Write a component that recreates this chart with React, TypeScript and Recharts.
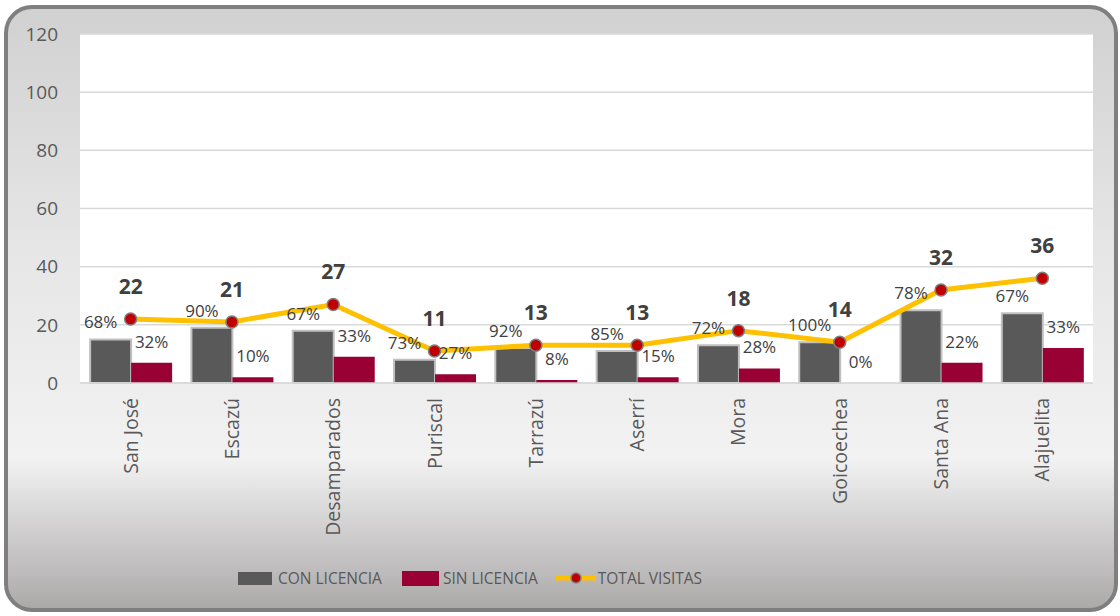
import {
  Bar,
  CartesianGrid,
  ComposedChart,
  LabelList,
  Legend,
  Line,
  XAxis,
  YAxis,
} from 'recharts';

const cantones = [
  'San José',
  'Escazú',
  'Desamparados',
  'Puriscal',
  'Tarrazú',
  'Aserrí',
  'Mora',
  'Goicoechea',
  'Santa Ana',
  'Alajuelita',
];
const conLicencia = [15, 19, 18, 8, 12, 11, 13, 14, 25, 24];
const sinLicencia = [7, 2, 9, 3, 1, 2, 5, 0, 7, 12];
const totalVisitas = [22, 21, 27, 11, 13, 13, 18, 14, 32, 36];
const conPct = [68, 90, 67, 73, 92, 85, 72, 100, 78, 67];
const sinPct = [32, 10, 33, 27, 8, 15, 28, 0, 22, 33];
const yTicks = [0, 20, 40, 60, 80, 100, 120];

const data = cantones.map((name, i) => ({
  name,
  con: conLicencia[i],
  sin: sinLicencia[i],
  total: totalVisitas[i],
  conPct: conPct[i],
  sinPct: sinPct[i],
}));

const FONT = '"Open Sans", "Noto Sans", sans-serif';

function RotatedTick({ x, y, payload }: any) {
  return (
    <g transform={`translate(${x},${y + 7})`}>
      <text
        x={0}
        y={0}
        dy={7}
        textAnchor="end"
        transform="rotate(-90)"
        fill="#595959"
        fontSize={19.5}
        fontFamily={FONT}
      >
        {payload.value}
      </text>
    </g>
  );
}

function ChartLegend() {
  const text = { fontSize: 15.5, color: '#595959', fontFamily: FONT };
  return (
    <div
      style={{
        height: 40,
        display: 'flex',
        alignItems: 'center',
        paddingLeft: 228,
        boxSizing: 'border-box',
      }}
    >
      <span style={{ width: 34, height: 13, background: '#595959', marginRight: 6 }} />
      <span style={{ ...text, marginRight: 20 }}>CON LICENCIA</span>
      <span style={{ width: 37, height: 15, background: '#990033', marginRight: 4 }} />
      <span style={{ ...text, marginRight: 18 }}>SIN LICENCIA</span>
      <svg width={40} height={16} style={{ marginRight: 2 }}>
        <line x1={0} y1={8} x2={40} y2={8} stroke="#ffc000" strokeWidth={5} />
        <circle cx={20} cy={8} r={5} fill="#c00000" stroke="#7f7f7f" strokeWidth={1.5} />
      </svg>
      <span style={text}>TOTAL VISITAS</span>
    </div>
  );
}

export default function App() {
  return (
    <div style={{ position: 'absolute', left: 0, top: 0, width: 1120, height: 616 }}>
      <div
        style={{
          position: 'absolute',
          left: 4,
          top: 5,
          width: 1114,
          height: 607,
          boxSizing: 'border-box',
          border: '4px solid #7f7f7f',
          borderRadius: 28,
          background:
            'linear-gradient(to bottom, #d2d1d2 0%, #e6e6e6 40%, #f2f2f2 75%, #aca9a9 100%)',
        }}
      />
      <div style={{ position: 'absolute', left: 0, top: 0 }}>
        <ComposedChart
          width={1120}
          height={616}
          data={data}
          margin={{ top: 34, right: 27, left: 10, bottom: 18 }}
          barCategoryGap="10%"
          barGap={0}
        >
          <CartesianGrid vertical={false} stroke="#d9d9d9" strokeWidth={1.5} fill="#ffffff" />
          <XAxis
            dataKey="name"
            height={175}
            interval={0}
            tickLine={false}
            axisLine={{ stroke: '#d9d9d9', strokeWidth: 1.5 }}
            tick={<RotatedTick />}
          />
          <YAxis
            width={70}
            domain={[0, 120]}
            ticks={yTicks}
            axisLine={false}
            tickLine={false}
            tickSize={0}
            tickMargin={22}
            tick={{ fill: '#595959', fontSize: 19, fontFamily: FONT }}
          />
          <Legend verticalAlign="bottom" content={<ChartLegend />} />
          <Bar
            dataKey="con"
            name="CON LICENCIA"
            fill="#595959"
            stroke="#c0c0c0"
            strokeWidth={2}
            isAnimationActive={false}
          >
            <LabelList
              dataKey="conPct"
              position="top"
              offset={11}
              dx={-10}
              formatter={(v: any) => `${v}%`}
              fill="#404040"
              fontSize={17}
              fontFamily={FONT}
            />
          </Bar>
          <Bar
            dataKey="sin"
            name="SIN LICENCIA"
            fill="#990033"
            minPointSize={0.1}
            isAnimationActive={false}
          >
            <LabelList
              dataKey="sinPct"
              position="top"
              offset={15}
              formatter={(v: any) => `${v}%`}
              fill="#404040"
              fontSize={17}
              fontFamily={FONT}
            />
          </Bar>
          <Line
            dataKey="total"
            name="TOTAL VISITAS"
            stroke="#ffc000"
            strokeWidth={5}
            dot={{ r: 6, fill: '#c00000', stroke: '#7f7f7f', strokeWidth: 1.5 }}
            isAnimationActive={false}
          >
            <LabelList
              dataKey="total"
              position="top"
              offset={25}
              fill="#404040"
              fontSize={21}
              fontWeight="bold"
              fontFamily={FONT}
            />
          </Line>
        </ComposedChart>
      </div>
    </div>
  );
}
